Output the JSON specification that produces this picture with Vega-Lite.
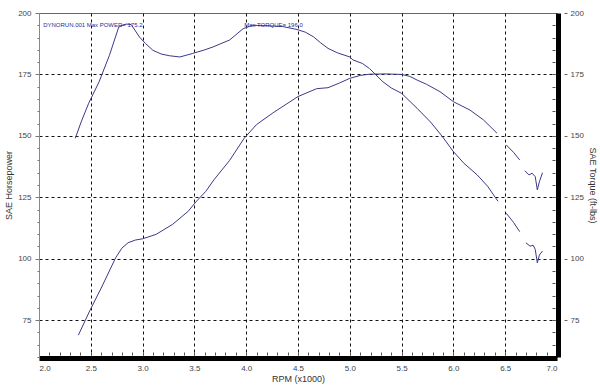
{
  "$schema": "https://vega.github.io/schema/vega-lite/v6.json",
  "width": 518,
  "height": 344,
  "autosize": {"type": "none"},
  "padding": {"left": 39, "top": 13, "right": 43, "bottom": 29},
  "background": "white",
  "config": {
    "view": {"stroke": "#666", "strokeWidth": 1},
    "axis": {
      "labelFont": "Liberation Sans",
      "titleFont": "Liberation Sans",
      "labelColor": "#444",
      "titleColor": "#333",
      "labelFontSize": 8,
      "titleFontSize": 9,
      "titleFontWeight": "normal"
    }
  },
  "datasets": {
    "hp": [
      {"seg": 1, "rpm": 2.38, "v": 68.9},
      {"seg": 1, "rpm": 2.49, "v": 78.8},
      {"seg": 1, "rpm": 2.61, "v": 88.9},
      {"seg": 1, "rpm": 2.74, "v": 100.4},
      {"seg": 1, "rpm": 2.80, "v": 104.3},
      {"seg": 1, "rpm": 2.86, "v": 106.5},
      {"seg": 1, "rpm": 2.93, "v": 107.6},
      {"seg": 1, "rpm": 3.00, "v": 108.1},
      {"seg": 1, "rpm": 3.13, "v": 109.9},
      {"seg": 1, "rpm": 3.29, "v": 114.0},
      {"seg": 1, "rpm": 3.44, "v": 119.3},
      {"seg": 1, "rpm": 3.52, "v": 123.4},
      {"seg": 1, "rpm": 3.61, "v": 127.4},
      {"seg": 1, "rpm": 3.69, "v": 132.2},
      {"seg": 1, "rpm": 3.84, "v": 140.0},
      {"seg": 1, "rpm": 3.98, "v": 149.0},
      {"seg": 1, "rpm": 4.10, "v": 154.6},
      {"seg": 1, "rpm": 4.26, "v": 159.4},
      {"seg": 1, "rpm": 4.50, "v": 166.0},
      {"seg": 1, "rpm": 4.68, "v": 169.2},
      {"seg": 1, "rpm": 4.79, "v": 169.6},
      {"seg": 1, "rpm": 4.90, "v": 171.5},
      {"seg": 1, "rpm": 5.00, "v": 173.4},
      {"seg": 1, "rpm": 5.10, "v": 174.6},
      {"seg": 1, "rpm": 5.19, "v": 175.1},
      {"seg": 1, "rpm": 5.35, "v": 175.2},
      {"seg": 1, "rpm": 5.50, "v": 175.0},
      {"seg": 1, "rpm": 5.58, "v": 174.2},
      {"seg": 1, "rpm": 5.65, "v": 172.7},
      {"seg": 1, "rpm": 5.74, "v": 171.0},
      {"seg": 1, "rpm": 5.87, "v": 168.0},
      {"seg": 1, "rpm": 6.00, "v": 163.9},
      {"seg": 1, "rpm": 6.16, "v": 160.5},
      {"seg": 1, "rpm": 6.29, "v": 156.5},
      {"seg": 1, "rpm": 6.42, "v": 151.1},
      {"seg": 2, "rpm": 6.51, "v": 146.3},
      {"seg": 2, "rpm": 6.58, "v": 143.3},
      {"seg": 2, "rpm": 6.64, "v": 140.2},
      {"seg": 3, "rpm": 6.69, "v": 135.8},
      {"seg": 3, "rpm": 6.73, "v": 134.1},
      {"seg": 3, "rpm": 6.76, "v": 134.8},
      {"seg": 3, "rpm": 6.79, "v": 133.4},
      {"seg": 3, "rpm": 6.81, "v": 128.0},
      {"seg": 3, "rpm": 6.83, "v": 131.3},
      {"seg": 3, "rpm": 6.86, "v": 135.0}
    ],
    "tq": [
      {"seg": 1, "rpm": 2.35, "v": 149.0},
      {"seg": 1, "rpm": 2.41, "v": 156.0},
      {"seg": 1, "rpm": 2.48, "v": 163.3},
      {"seg": 1, "rpm": 2.58, "v": 172.0},
      {"seg": 1, "rpm": 2.68, "v": 182.8},
      {"seg": 1, "rpm": 2.77, "v": 194.3},
      {"seg": 1, "rpm": 2.84, "v": 195.5},
      {"seg": 1, "rpm": 2.89, "v": 195.3},
      {"seg": 1, "rpm": 2.97, "v": 190.2},
      {"seg": 1, "rpm": 3.03, "v": 187.5},
      {"seg": 1, "rpm": 3.10, "v": 184.8},
      {"seg": 1, "rpm": 3.18, "v": 183.3},
      {"seg": 1, "rpm": 3.26, "v": 182.6},
      {"seg": 1, "rpm": 3.36, "v": 182.1},
      {"seg": 1, "rpm": 3.48, "v": 183.5},
      {"seg": 1, "rpm": 3.60, "v": 185.0},
      {"seg": 1, "rpm": 3.68, "v": 186.2},
      {"seg": 1, "rpm": 3.84, "v": 189.0},
      {"seg": 1, "rpm": 3.97, "v": 193.6},
      {"seg": 1, "rpm": 4.06, "v": 195.0},
      {"seg": 1, "rpm": 4.20, "v": 194.8},
      {"seg": 1, "rpm": 4.35, "v": 194.5},
      {"seg": 1, "rpm": 4.49, "v": 193.3},
      {"seg": 1, "rpm": 4.57, "v": 192.2},
      {"seg": 1, "rpm": 4.65, "v": 190.3},
      {"seg": 1, "rpm": 4.72, "v": 187.8},
      {"seg": 1, "rpm": 4.79, "v": 185.6},
      {"seg": 1, "rpm": 4.88, "v": 183.8},
      {"seg": 1, "rpm": 5.00, "v": 182.1},
      {"seg": 1, "rpm": 5.03, "v": 180.9},
      {"seg": 1, "rpm": 5.12, "v": 179.5},
      {"seg": 1, "rpm": 5.19, "v": 177.4},
      {"seg": 1, "rpm": 5.32, "v": 172.0},
      {"seg": 1, "rpm": 5.40, "v": 169.5},
      {"seg": 1, "rpm": 5.50, "v": 167.3},
      {"seg": 1, "rpm": 5.65, "v": 161.2},
      {"seg": 1, "rpm": 5.78, "v": 155.6},
      {"seg": 1, "rpm": 5.89, "v": 149.9},
      {"seg": 1, "rpm": 6.00, "v": 143.6},
      {"seg": 1, "rpm": 6.10, "v": 138.9},
      {"seg": 1, "rpm": 6.23, "v": 134.1},
      {"seg": 1, "rpm": 6.33, "v": 129.5},
      {"seg": 1, "rpm": 6.43, "v": 123.4},
      {"seg": 2, "rpm": 6.51, "v": 118.5},
      {"seg": 2, "rpm": 6.58, "v": 114.8},
      {"seg": 2, "rpm": 6.64, "v": 111.0},
      {"seg": 3, "rpm": 6.70, "v": 106.5},
      {"seg": 3, "rpm": 6.74, "v": 105.1},
      {"seg": 3, "rpm": 6.77, "v": 105.5},
      {"seg": 3, "rpm": 6.79, "v": 103.8},
      {"seg": 3, "rpm": 6.81, "v": 98.3},
      {"seg": 3, "rpm": 6.83, "v": 101.5},
      {"seg": 3, "rpm": 6.86, "v": 103.1}
    ],
    "notes": [
      {"rpm": 2.04, "v": 195.2, "label": "DYNORUN.001"},
      {"rpm": 2.46, "v": 195.2, "label": "Max POWER= 175.2"},
      {"rpm": 3.98, "v": 195.2, "label": "Max TORQUE= 196.0"}
    ]
  },
  "layer": [
    {
      "data": {"name": "hp"},
      "mark": {"type": "line", "strokeOpacity": 0},
      "encoding": {
        "x": {"field": "rpm", "type": "quantitative", "scale": {"domain": [2, 7], "nice": false, "zero": false},
          "axis": {"orient": "bottom", "values": [2.5, 3, 3.5, 4, 4.5, 5, 5.5, 6, 6.5], "labels": false, "ticks": false, "domain": false, "grid": true, "gridColor": "#111", "gridDash": [3, 3], "gridWidth": 1, "title": null}},
        "y": {"field": "v", "type": "quantitative", "scale": {"domain": [60, 200], "nice": false, "zero": false},
          "axis": {"orient": "left", "values": [75, 100, 125, 150, 175], "labels": false, "ticks": false, "domain": false, "grid": true, "gridColor": "#111", "gridDash": [3, 3], "gridWidth": 1, "title": null}},
        "detail": {"field": "seg"}
      }
    },
    {
      "data": {"name": "hp"},
      "mark": {"type": "line", "color": "#3a3a88", "strokeWidth": 1},
      "encoding": {
        "x": {"field": "rpm", "type": "quantitative",
          "axis": {"orient": "bottom", "values": [2, 2.5, 3, 3.5, 4, 4.5, 5, 5.5, 6, 6.5, 7], "format": ".1f", "grid": false, "ticks": false, "domainColor": "#000", "domainWidth": 5, "offset": 1, "labelPadding": 6, "title": "RPM (x1000)", "titlePadding": 2}},
        "y": {"field": "v", "type": "quantitative",
          "axis": {"orient": "left", "values": [75, 100, 125, 150, 175, 200], "grid": false, "tickSize": 4, "tickColor": "#777", "domainColor": "#888", "labelPadding": 4, "title": "SAE Horsepower", "titlePadding": 4}},
        "detail": {"field": "seg"}
      }
    },
    {
      "data": {"name": "tq"},
      "mark": {"type": "line", "color": "#3a3a88", "strokeWidth": 1},
      "encoding": {
        "x": {"field": "rpm", "type": "quantitative",
          "axis": {"orient": "bottom", "values": [2.1, 2.2, 2.3, 2.4, 2.5, 2.6, 2.7, 2.8, 2.9, 3.0, 3.1, 3.2, 3.3, 3.4, 3.5, 3.6, 3.7, 3.8, 3.9, 4.0, 4.1, 4.2, 4.3, 4.4, 4.5, 4.6, 4.7, 4.8, 4.9, 5.0, 5.1, 5.2, 5.3, 5.4, 5.5, 5.6, 5.7, 5.8, 5.9, 6.0, 6.1, 6.2, 6.3, 6.4, 6.5, 6.6, 6.7, 6.8, 6.9], "labels": false, "domain": false, "grid": false, "tickSize": 3, "tickColor": "#555", "offset": -5, "title": null}},
        "y": {"field": "v", "type": "quantitative",
          "axis": {"orient": "right", "values": [75, 100, 125, 150, 175, 200], "grid": false, "domainColor": "#000", "domainWidth": 5, "offset": 1, "tickSize": 10, "tickDash": [0, 6, 3, 10], "tickColor": "#666", "labelPadding": 2, "title": "SAE Torque (ft-lbs)", "titlePadding": 4}},
        "detail": {"field": "seg"}
      }
    },
    {
      "data": {"name": "notes"},
      "mark": {"type": "text", "align": "left", "baseline": "middle", "font": "Liberation Sans", "fontSize": 6, "color": "#2a2a9a"},
      "encoding": {
        "x": {"field": "rpm", "type": "quantitative", "axis": null},
        "y": {"field": "v", "type": "quantitative",
          "axis": {"orient": "left", "values": [60, 65, 70, 80, 85, 90, 95, 105, 110, 115, 120, 130, 135, 140, 145, 155, 160, 165, 170, 180, 185, 190, 195], "labels": false, "grid": false, "domain": false, "tickSize": 2, "tickColor": "#777", "title": null}},
        "text": {"field": "label"}
      }
    },
    {
      "data": {"name": "tq"},
      "mark": {"type": "line", "strokeOpacity": 0},
      "encoding": {
        "x": {"field": "rpm", "type": "quantitative", "axis": null},
        "y": {"field": "v", "type": "quantitative",
          "axis": {"orient": "right", "values": [65, 70, 75, 80, 85, 90, 95, 100, 105, 110, 115, 120, 125, 130, 135, 140, 145, 150, 155, 160, 165, 170, 175, 180, 185, 190, 195], "labels": false, "grid": false, "domain": false, "tickSize": 3, "tickColor": "#555", "offset": -5, "title": null}},
        "detail": {"field": "seg"}
      }
    }
  ],
  "resolve": {"axis": {"x": "independent", "y": "independent"}}
}
